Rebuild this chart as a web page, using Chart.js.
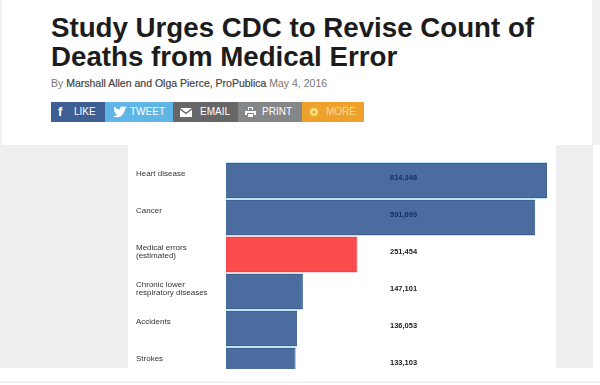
<!DOCTYPE html>
<html lang="en">
<head>
<title>Study Urges CDC to Revise Count of Deaths from Medical Error</title>
<script src="https://cdn.jsdelivr.net/npm/chart.js@4/dist/chart.umd.min.js"></script>
<style>
    html, body { margin: 0; padding: 0; background: #fff; }
    body { width: 600px; height: 385px; position: relative; overflow: hidden; font-family: "Liberation Sans", Arial, sans-serif; filter: blur(0.4px); }
    h1 { position: absolute; left: 51px; top: 13px; margin: 0; width: 520px; font-size: 27.7px; line-height: 29px; font-weight: bold; color: #1c1c1c; }
    .byline { position: absolute; left: 51px; top: 77px; font-size: 10.5px; color: #777; }
    .byline b { color: #444; font-weight: normal; -webkit-text-stroke: 0.2px #444; }
    .share { position: absolute; top: 102px; height: 20px; color: #fff; font-size: 10px; line-height: 20px; opacity: 0.95; }
    .share i { position: absolute; left: 7px; top: 0; font-style: normal; font-weight: bold; font-size: 13px; }
    .share span { position: absolute; white-space: nowrap; }
    .side { position: absolute; top: 145px; height: 223px; background: #efeff1; }
    .edge { position: absolute; background: #f1f1f1; }
    #wrap { position: absolute; left: 0; top: 0; width: 600px; height: 369px; overflow: hidden; }
</style>
</head>
<body>
    <div class="edge" style="left:0;top:0;width:2px;height:145px"></div>
    <div class="edge" style="left:592px;top:0;width:8px;height:145px"></div>
    <div class="edge" style="left:0;top:381px;width:600px;height:2px"></div>
    <div class="side" style="left:0;width:128px"></div>
    <div class="side" style="left:556px;width:37px"></div>

    <h1>Study Urges CDC to Revise Count of Deaths from Medical Error</h1>
    <div class="byline">By <b>Marshall Allen and Olga Pierce, ProPublica</b> May 4, 2016</div>

    <div class="share" style="left:51px;width:54px;background:#35568f"><i>f</i><span style="left:23px">LIKE</span></div>
    <div class="share" style="left:105px;width:68px;background:#58b2e6">
        <svg style="position:absolute;left:8px;top:4px" width="14" height="12" viewBox="0 0 14 12"><path fill="#fff" d="M0 10c4 3 11 1 12-7l2-2-2 .5L13 0l-2 1C9-.5 6 1 7 3.500 4.500 3.500 2.500 2 1 .5.500 2 1 3.500 2 4.500L1 4c0 1.500 1 2.500 2 3H2c.5 1 1.500 1.500 2.500 1.500C3.500 9.500 1.500 10 0 10z"/></svg>
        <span style="left:25px">TWEET</span></div>
    <div class="share" style="left:173px;width:65px;background:#5f5f60">
        <svg style="position:absolute;left:7px;top:6px" width="12" height="9" viewBox="0 0 12 9"><path fill="#fff" d="M0 0h12L6 4.500zM0 1.800l6 4.500 6-4.500V9H0z"/></svg>
        <span style="left:27px">EMAIL</span></div>
    <div class="share" style="left:238px;width:64px;background:#7f8082">
        <svg style="position:absolute;left:7px;top:5px" width="11" height="10" viewBox="0 0 11 10"><path fill="#fff" d="M3 0h5v3H7V1H4v2H3zM0 4h11v4H9V6H2v2H0zM3 7h5v3H3z"/></svg>
        <span style="left:24px">PRINT</span></div>
    <div class="share" style="left:302px;width:62px;background:#ee9c20">
        <svg style="position:absolute;left:7px;top:5px" width="10" height="10" viewBox="0 0 10 10"><circle cx="5" cy="5" r="4" fill="#f7e27a"/><circle cx="5" cy="5" r="1.600" fill="#ee9c20"/></svg>
        <span style="left:24px;color:#f8d98f">MORE</span></div>

    <!-- canvas runs past the wrapper, the last bar is cut off like in the screenshot -->
    <div id="wrap"><canvas id="myChart" width="600" height="404"></canvas></div>

<script>
    // empty second line keeps the one-line labels level with the top line of the two-line ones
    var categories = [
        ['Heart disease', ''],
        ['Cancer', ''],
        ['Medical errors', '(estimated)'],
        ['Chronic lower', 'respiratory diseases'],
        ['Accidents', ''],
        ['Strokes', '']
    ];
    var deaths = [614348, 591699, 251454, 147101, 136053, 133103];
    var valueLabels = ['614,348', '591,699', '251,454', '147,101', '136,053', '133,103'];
    var barColors = ['#4a6c9f', '#4a6c9f', '#fb4b4d', '#4a6c9f', '#4a6c9f', '#4a6c9f'];
    var edgeColors = ['#40608f', '#40608f', '#c9565c', '#40608f', '#40608f', '#40608f'];
    var haloColors = ['#bfe3f5', '#bfe3f5', '#f7d3d6', '#bfe3f5', '#bfe3f5', '#bfe3f5'];
    var labelColors = ['#12305f', '#12305f', '#222', '#222', '#222', '#222'];

    // value column sits at a fixed x, next to each bar's own y
    const valueLabelPlugin = {
        id: 'valueLabels',
        afterDatasetsDraw(chart) {
            const ctx = chart.ctx;
            const meta = chart.getDatasetMeta(0);
            ctx.save();
            ctx.font = 'bold 7.5px "Liberation Sans"';
            ctx.textBaseline = 'middle';
            meta.data.forEach(function (bar, i) {
                ctx.fillStyle = labelColors[i];
                ctx.fillText(valueLabels[i], 390, bar.y - 2.5);
            });
            ctx.restore();
        }
    };

    const ctx = document.getElementById('myChart').getContext('2d');
    const myChart = new Chart(ctx, {
        type: 'bar',
        data: {
            labels: categories,
            datasets: [{
                data: deaths,
                backgroundColor: barColors,
                borderColor: edgeColors,
                borderWidth: 1,
                grouped: false,
                barPercentage: 0.946,
                categoryPercentage: 1,
                order: 1
            }, {
                // thin pale rim showing between the bars
                data: deaths,
                backgroundColor: haloColors,
                inflateAmount: 0,
                grouped: false,
                barPercentage: 1,
                categoryPercentage: 1,
                order: 2
            }]
        },
        options: {
            indexAxis: 'y',
            responsive: false,
            animation: false,
            layout: { padding: { left: 136, right: 53, top: 162, bottom: 20 } },
            plugins: { legend: { display: false }, tooltip: { enabled: false } },
            scales: {
                x: { display: false, min: 0, max: 614348 },
                y: {
                    afterFit: function (scale) { scale.width = 90; },
                    border: { display: false },
                    grid: { display: false, drawTicks: false },
                    ticks: {
                        autoSkip: false,
                        crossAlign: 'far',
                        labelOffset: -3,
                        color: '#333',
                        font: { family: '"Liberation Sans"', size: 8, lineHeight: 1.05 }
                    }
                }
            }
        },
        plugins: [valueLabelPlugin]
    });
</script>
</body>
</html>
